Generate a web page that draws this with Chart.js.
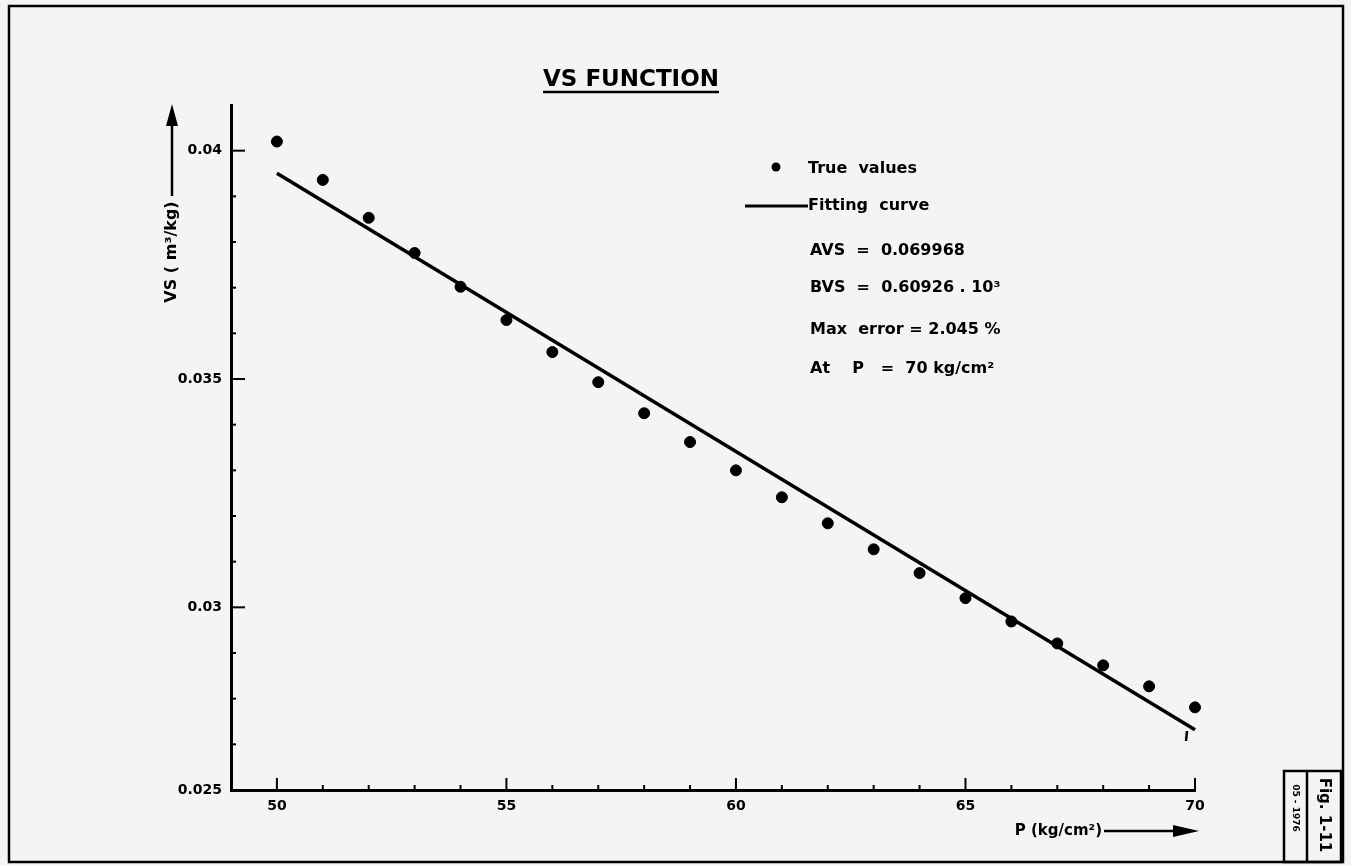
<!DOCTYPE html>
<html>
<head>
<meta charset="utf-8">
<script src="https://cdn.jsdelivr.net/npm/chart.js@4.4.1/dist/chart.umd.min.js"></script>
<style>
  body { margin: 0; background: #f4f4f4; }
  #wrap { width: 1351px; height: 865px; }
</style>
</head>
<body>
<div id="wrap"><canvas id="vsChart" width="1351" height="865"></canvas></div>
<script>
// pressure P (kg/cm2) and the measured VS (m3/kg)
var pressure = [50, 51, 52, 53, 54, 55, 56, 57, 58, 59, 60, 61, 62, 63, 64, 65, 66, 67, 68, 69, 70];
var trueVs = [0.04020, 0.03936, 0.03853, 0.03776, 0.03702, 0.03629, 0.03559, 0.03493, 0.03425,
              0.03362, 0.03300, 0.03241, 0.03184, 0.03127, 0.03075, 0.03020, 0.02969, 0.02921,
              0.02873, 0.02827, 0.02781];

// fitting curve end points
var fitP = [50, 70];
var fitVs = [0.039505, 0.027320];

// tick labels
var xLabelValues = [50, 55, 60, 65, 70];
var yLabelValues = [26, 30, 35, 40];          // in 1e-3 units
var yLabelTexts = ['0.025', '0.03', '0.035', '0.04'];

var legendLines = [
    'AVS  =  0.069968',
    'BVS  =  0.60926 . 10\u00b3',
    'Max  error = 2.045 %',
    'At    P   =  70 kg/cm\u00b2'
];

var FONT = '"DejaVu Sans", "Liberation Sans", sans-serif';

var bgPlugin = {
    id: 'bg',
    beforeDraw: function (chart) {
        var c = chart.ctx;
        c.save();
        c.fillStyle = '#f4f4f4';
        c.fillRect(0, 0, chart.width, chart.height);
        c.restore();
    }
};

function arrowHead(c, x, y, dir) {
    c.beginPath();
    if (dir === 'up') {
        c.moveTo(x, y);
        c.lineTo(x - 6, y + 22);
        c.lineTo(x + 6, y + 22);
    } else {
        c.moveTo(x, y);
        c.lineTo(x - 26, y - 6);
        c.lineTo(x - 26, y + 6);
    }
    c.closePath();
    c.fill();
}

var decoPlugin = {
    id: 'deco',
    afterDraw: function (chart) {
        var c = chart.ctx;
        var xs = chart.scales.x, ys = chart.scales.y;
        var area = chart.chartArea;
        c.save();
        c.strokeStyle = '#000';
        c.fillStyle = '#000';

        // inward ticks
        c.lineWidth = 2;
        for (var v = 49; v <= 70; v++) {
            var px = xs.getPixelForValue(v);
            var len = xLabelValues.indexOf(v) >= 0 ? 12 : 5;
            c.beginPath();
            c.moveTo(px, area.bottom);
            c.lineTo(px, area.bottom - len);
            c.stroke();
        }
        for (var k = 26; k <= 40; k++) {
            var py = ys.getPixelForValue(k / 1000);
            var ylen = (k === 30 || k === 35 || k === 40) ? 14 : 5;
            c.beginPath();
            c.moveTo(area.left, py);
            c.lineTo(area.left + ylen, py);
            c.stroke();
        }

        // title
        c.font = 'bold 23px ' + FONT;
        c.textAlign = 'center';
        c.textBaseline = 'alphabetic';
        c.fillText('VS FUNCTION', 631, 86);
        var tw = c.measureText('VS FUNCTION').width;
        c.lineWidth = 2.5;
        c.beginPath();
        c.moveTo(631 - tw / 2, 92);
        c.lineTo(631 + tw / 2, 92);
        c.stroke();

        // y axis title with arrow
        c.save();
        c.translate(172, 252);
        c.rotate(-Math.PI / 2);
        c.font = 'bold 16px ' + FONT;
        c.textAlign = 'center';
        c.textBaseline = 'middle';
        c.fillText('VS ( m\u00b3/kg)', 0, 0);
        c.restore();
        c.lineWidth = 2.5;
        c.beginPath();
        c.moveTo(172, 196);
        c.lineTo(172, 118);
        c.stroke();
        arrowHead(c, 172, 104, 'up');

        // x axis title with arrow
        c.font = 'bold 15px ' + FONT;
        c.textAlign = 'right';
        c.textBaseline = 'middle';
        c.fillText('P (kg/cm\u00b2)', 1102, 831);
        c.beginPath();
        c.moveTo(1104, 831);
        c.lineTo(1176, 831);
        c.stroke();
        arrowHead(c, 1199, 831, 'right');

        // legend
        c.textAlign = 'left';
        c.font = 'bold 16px ' + FONT;
        c.beginPath();
        c.arc(776, 167, 4.5, 0, Math.PI * 2);
        c.fill();
        c.fillText('True  values', 808, 169);
        c.lineWidth = 3;
        c.beginPath();
        c.moveTo(745, 206);
        c.lineTo(808, 206);
        c.stroke();
        c.fillText('Fitting  curve', 808, 206);
        var ly = [251, 288, 330, 369];
        for (var i = 0; i < legendLines.length; i++) {
            c.fillText(legendLines[i], 810, ly[i]);
        }

        // small mark under the end of the fit line
        c.lineWidth = 2.5;
        c.beginPath();
        c.moveTo(1187, 731);
        c.lineTo(1186, 741);
        c.stroke();

        // outer frame
        c.lineWidth = 2.5;
        c.strokeRect(9, 6, 1334, 856);

        // figure box
        c.lineWidth = 2.5;
        c.strokeRect(1284, 771, 57, 91);
        c.beginPath();
        c.moveTo(1307, 771);
        c.lineTo(1307, 862);
        c.stroke();
        c.save();
        c.translate(1324, 815);
        c.rotate(Math.PI / 2);
        c.font = 'bold 15px ' + FONT;
        c.textAlign = 'center';
        c.textBaseline = 'middle';
        c.fillText('Fig. 1-11', 0, 0);
        c.restore();
        c.save();
        c.translate(1295, 808);
        c.rotate(Math.PI / 2);
        c.font = 'bold 9px ' + FONT;
        c.textAlign = 'center';
        c.textBaseline = 'middle';
        c.fillText('05 - 1976', 0, 0);
        c.restore();

        c.restore();
    }
};

var ctx = document.getElementById('vsChart').getContext('2d');
var points = pressure.map(function (p, i) { return { x: p, y: trueVs[i] }; });
var fitPoints = fitP.map(function (p, i) { return { x: p, y: fitVs[i] }; });

var myChart = new Chart(ctx, {
    type: 'scatter',
    data: {
        datasets: [{
            label: 'True values',
            data: points,
            backgroundColor: '#000',
            borderColor: '#000',
            pointRadius: 5.5,
            pointHoverRadius: 5.5,
            showLine: false,
            clip: false
        }, {
            label: 'Fitting curve',
            data: fitPoints,
            borderColor: '#000',
            borderWidth: 3.5,
            pointRadius: 0,
            showLine: true,
            fill: false,
            clip: false
        }]
    },
    options: {
        responsive: false,
        animation: false,
        events: [],
        layout: {
            padding: { left: 0, top: 105, right: 156, bottom: 0 }
        },
        plugins: {
            legend: { display: false },
            title: { display: false },
            tooltip: { enabled: false }
        },
        scales: {
            x: {
                type: 'linear',
                min: 49,
                max: 70,
                afterFit: function (scale) { scale.height = 75; },
                border: { display: true, color: '#000', width: 3 },
                grid: { display: false, drawTicks: false },
                ticks: {
                    stepSize: 1,
                    autoSkip: false,
                    maxRotation: 0,
                    padding: 8,
                    color: '#000',
                    font: { family: FONT, size: 14, weight: 'bold' },
                    callback: function (value) {
                        return xLabelValues.indexOf(value) >= 0 ? String(value) : '';
                    }
                }
            },
            y: {
                type: 'linear',
                min: 0.026,
                max: 0.041,
                afterFit: function (scale) { scale.width = 231; },
                border: { display: true, color: '#000', width: 3 },
                grid: { display: false, drawTicks: false },
                ticks: {
                    stepSize: 0.001,
                    autoSkip: false,
                    padding: 9,
                    color: '#000',
                    font: { family: FONT, size: 14, weight: 'bold' },
                    callback: function (value) {
                        var idx = yLabelValues.indexOf(Math.round(value * 1000));
                        return idx >= 0 ? yLabelTexts[idx] : '';
                    }
                }
            }
        }
    },
    plugins: [bgPlugin, decoPlugin]
});
</script>
</body>
</html>
